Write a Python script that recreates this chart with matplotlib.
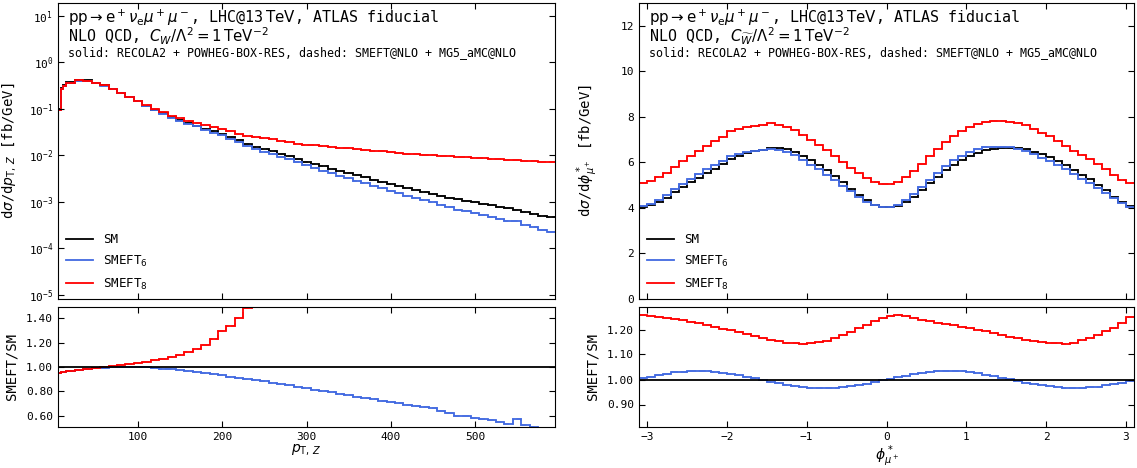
import numpy as np
import matplotlib
matplotlib.use('Agg')
import matplotlib.pyplot as plt
from matplotlib.ticker import FormatStrFormatter, LogLocator, NullLocator

plt.rcParams['font.family'] = ['DejaVu Sans Mono', 'DejaVu Sans']
plt.rcParams['mathtext.fontset'] = 'dejavusans'
plt.rcParams['font.size'] = 8

#%% data: pT,Z distribution (fb/GeV) and ratios to SM

pt_edges = np.concatenate([[5, 8, 11], np.arange(15, 596, 10)])

pt_sm = [0.10, 0.28, 0.33,
         0.38, 0.42, 0.41, 0.37, 0.32, 0.27, 0.22, 0.18, 0.145, 0.115,
         0.095, 0.080, 0.066, 0.057, 0.050, 0.044, 0.038, 0.033, 0.029, 0.025,
         0.021, 0.018, 0.0155, 0.0138, 0.0124, 0.011, 0.0097, 0.0085, 0.0074, 0.0066,
         0.0059, 0.0052, 0.0047, 0.0042, 0.0038, 0.0034, 0.0030, 0.0027, 0.0024, 0.00218,
         0.00198, 0.0018, 0.00162, 0.00147, 0.00134, 0.00123, 0.00114, 0.00106, 0.00098, 0.00091,
         0.00085, 0.00079, 0.00073, 0.00067, 0.00061, 0.00056, 0.00051, 0.00047]

pt_r6 = [0.955, 0.958, 0.962,
         0.967, 0.975, 0.983, 0.990, 0.995, 0.998, 1.000, 1.000, 0.999, 0.996,
         0.992, 0.987, 0.981, 0.974, 0.966, 0.958, 0.949, 0.940, 0.931, 0.922,
         0.913, 0.903, 0.893, 0.882, 0.871, 0.861, 0.850, 0.839, 0.828, 0.816,
         0.804, 0.793, 0.782, 0.770, 0.758, 0.746, 0.735, 0.723, 0.712, 0.702,
         0.692, 0.682, 0.672, 0.665, 0.640, 0.622, 0.603, 0.596, 0.586, 0.576,
         0.565, 0.551, 0.535, 0.572, 0.524, 0.508, 0.490, 0.475]

pt_r8 = [0.955, 0.958, 0.962,
         0.968, 0.978, 0.987, 0.994, 1.001, 1.009, 1.017, 1.025, 1.034, 1.044,
         1.055, 1.067, 1.081, 1.098, 1.120, 1.148, 1.180, 1.228, 1.290, 1.335,
         1.40, 1.48, 1.60, 1.70, 1.80, 1.90, 2.00, 2.12, 2.32, 2.50,
         2.70, 2.96, 3.15, 3.40, 3.63, 3.88, 4.23, 4.52, 4.90, 5.18,
         5.55, 5.94, 6.42, 6.87, 7.31, 7.80, 8.16, 8.58, 9.08, 9.56,
         10.0, 10.5, 11.1, 11.8, 12.6, 13.4, 14.3, 15.1]

#%% data: phi* distribution (fb/GeV) and ratios to SM

phi_edges = np.round(np.arange(-3.1, 3.15, 0.1), 2)

phi_sm = [4.05, 4.12, 4.28, 4.45, 4.68, 4.90, 5.12, 5.32, 5.52, 5.72,
          5.92, 6.15, 6.28, 6.40, 6.48, 6.55, 6.65, 6.63, 6.57, 6.47,
          6.30, 6.10, 5.90, 5.65, 5.40, 5.12, 4.85, 4.58, 4.35, 4.15,
          4.04, 4.02, 4.10, 4.28, 4.50, 4.78, 5.08, 5.38, 5.65, 5.90,
          6.10, 6.28, 6.42, 6.53, 6.60, 6.64, 6.65, 6.62, 6.57, 6.47,
          6.35, 6.22, 6.07, 5.88, 5.67, 5.45, 5.25, 5.02, 4.78, 4.50,
          4.28, 4.08]

phi_r6 = [1.006, 1.012, 1.018, 1.023, 1.028, 1.031, 1.033, 1.033, 1.032, 1.030,
          1.027, 1.023, 1.017, 1.012, 1.005, 0.999, 0.992, 0.986, 0.980, 0.975,
          0.971, 0.968, 0.967, 0.967, 0.968, 0.971, 0.974, 0.979, 0.984, 0.990,
          0.997, 1.003, 1.010, 1.016, 1.021, 1.026, 1.029, 1.032, 1.033, 1.033,
          1.032, 1.029, 1.025, 1.020, 1.014, 1.008, 1.001, 0.995, 0.988, 0.983,
          0.977, 0.973, 0.970, 0.968, 0.967, 0.967, 0.969, 0.972, 0.977, 0.982,
          0.988, 0.994]

phi_r8 = [1.256, 1.254, 1.250, 1.246, 1.242, 1.236, 1.230, 1.224, 1.218, 1.212,
          1.204, 1.197, 1.190, 1.182, 1.174, 1.166, 1.160, 1.154, 1.148, 1.145,
          1.144, 1.146, 1.150, 1.156, 1.165, 1.177, 1.190, 1.205, 1.220, 1.235,
          1.246, 1.252, 1.256, 1.254, 1.246, 1.238, 1.232, 1.226, 1.221, 1.217,
          1.212, 1.206, 1.200, 1.193, 1.186, 1.179, 1.172, 1.166, 1.160, 1.155,
          1.151, 1.148, 1.146, 1.144, 1.148, 1.158, 1.168, 1.180, 1.193, 1.207,
          1.225, 1.248]

labels = ['SM', r'SMEFT$_6$', r'SMEFT$_8$']
colors = ['black', 'royalblue', 'red']

line1 = r'$\mathrm{pp}\rightarrow\mathrm{e}^+\nu_\mathrm{e}\mu^+\mu^-$, LHC@13$\,\mathrm{TeV}$, ATLAS fiducial'
line2 = [r'NLO QCD, $C_W/\Lambda^2 = 1\,\mathrm{TeV}^{-2}$',
         r'NLO QCD, $C_{\widetilde{W}}/\Lambda^2 = 1\,\mathrm{TeV}^{-2}$']
line3 = 'solid: RECOLA2 + POWHEG-BOX-RES, dashed: SMEFT@NLO + MG5_aMC@NLO'

#%% figure

fig = plt.figure(figsize=(11.37, 4.68), dpi=100)
W, H = 1137., 468.

def box(x0, x1, y0, y1):
    return [x0 / W, 1 - y1 / H, (x1 - x0) / W, (y1 - y0) / H]

axL = fig.add_axes(box(58, 555, 3, 299))
axLr = fig.add_axes(box(58, 555, 307, 427))
axR = fig.add_axes(box(639, 1134, 3, 299))
axRr = fig.add_axes(box(639, 1134, 307, 427))

def draw(ax, axr, edges, sm, r6, r8):
    sm = np.array(sm)
    mains = [sm, sm * np.array(r6), sm * np.array(r8)]
    for vals, c, lab in zip(mains, colors, labels):
        ax.stairs(vals, edges, color=c, lw=1.3, label=lab, baseline=None)
        ax.stairs(vals, edges, color=c, lw=1.3, ls='--', alpha=0.5, baseline=None)
    axr.axhline(1.0, color='black', lw=1.3)
    for r, c in zip([r6, r8], colors[1:]):
        axr.stairs(r, edges, color=c, lw=1.3, baseline=None)
        axr.stairs(r, edges, color=c, lw=1.3, ls='--', alpha=0.5, baseline=None)

draw(axL, axLr, pt_edges, pt_sm, pt_r6, pt_r8)
draw(axR, axRr, phi_edges, phi_sm, phi_r6, phi_r8)

axL.set_yscale('log')
axL.set_ylim(8.2e-6, 19)
axL.yaxis.set_major_locator(LogLocator(base=10, numticks=10))
axL.yaxis.set_minor_locator(NullLocator())
axL.set_xlim(5, 595)
axLr.set_xlim(5, 595)
axLr.set_ylim(0.51, 1.49)
axLr.set_yticks([0.6, 0.8, 1.0, 1.2, 1.4])
axLr.yaxis.set_major_formatter(FormatStrFormatter('%.2f'))

axR.set_xlim(-3.1, 3.1)
axRr.set_xlim(-3.1, 3.1)
axR.set_ylim(0, 13)
axR.set_yticks([0, 2, 4, 6, 8, 10, 12])
axRr.set_ylim(0.81, 1.29)
axRr.set_yticks([0.9, 1.0, 1.1, 1.2])
axRr.yaxis.set_major_formatter(FormatStrFormatter('%.2f'))

for ax in [axL, axLr, axR, axRr]:
    ax.tick_params(direction='in', top=True, right=True, labelsize=8, length=4)
    ax.yaxis.set_label_coords(-0.08, 0.5)
for ax in [axL, axR]:
    ax.tick_params(labelbottom=False)

axL.set_xticks([100, 200, 300, 400, 500])
axLr.set_xticks([100, 200, 300, 400, 500])
axR.set_xticks([-3, -2, -1, 0, 1, 2, 3])
axRr.set_xticks([-3, -2, -1, 0, 1, 2, 3])

axL.set_ylabel(r'd$\sigma$/d$p_{\mathrm{T},\,Z}$ [fb/GeV]', fontsize=10)
axR.set_ylabel(r'd$\sigma$/d$\phi^*_{\mu^+}$ [fb/GeV]', fontsize=10)
axLr.set_ylabel('SMEFT/SM', fontsize=10)
axRr.set_ylabel('SMEFT/SM', fontsize=10)
axLr.set_xlabel(r'$p_{\mathrm{T},\,Z}$', fontsize=10, labelpad=1)
axRr.set_xlabel(r'$\phi^*_{\mu^+}$', fontsize=10, labelpad=1)

for ax, l2 in zip([axL, axR], line2):
    ax.text(0.02, 0.985, line1, transform=ax.transAxes, va='top', ha='left', fontsize=10.8)
    ax.text(0.02, 0.922, l2, transform=ax.transAxes, va='top', ha='left', fontsize=10.8)
    ax.text(0.02, 0.855, line3, transform=ax.transAxes, va='top', ha='left', fontsize=8.4)
    ax.legend(loc='lower left', frameon=False, fontsize=9, handlelength=2.2,
              labelspacing=0.6, borderaxespad=0.2)

fig.savefig('out.png', dpi=100)
